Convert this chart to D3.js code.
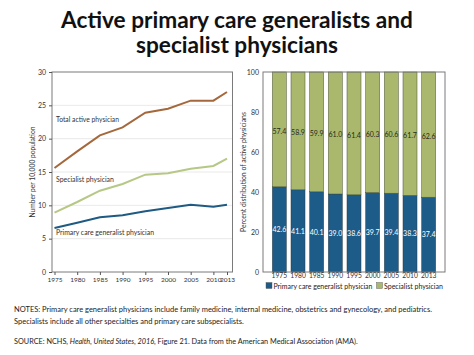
<!DOCTYPE html>
<html><head><meta charset="utf-8">
<script src="https://cdn.jsdelivr.net/npm/d3@7"></script>
<style>
body{margin:0;background:#fff;}
svg{display:block;}
text{font-family:Lato,"Open Sans",sans-serif;}
</style></head>
<body>
<svg id="c" width="474" height="355"></svg>
<script>
const years = [1975,1980,1985,1990,1995,2000,2005,2010,2013];
const totalRate = [15.6,18.1,20.5,21.7,23.9,24.5,25.7,25.7,27.0];
const specialistRate = [8.9,10.5,12.2,13.2,14.6,14.8,15.5,15.9,17.0];
const primaryRate = [6.6,7.4,8.2,8.5,9.1,9.6,10.1,9.8,10.1];
const primaryPct = [42.6,41.1,40.1,39.0,38.6,39.7,39.4,38.3,37.4];
const specialistPct = [57.4,58.9,59.9,61.0,61.4,60.3,60.6,61.7,62.6];
const leftYTicks = [0,5,10,15,20,25,30];
const rightYTicks = [0,20,40,60,80,100];
const titleLines = ["Active primary care generalists and","specialist physicians"];
const lineSeries = [
  {name:"Total active physician", values: totalRate, color:"#a5683c"},
  {name:"Specialist physician", values: specialistRate, color:"#b6c886"},
  {name:"Primary care generalist physician", values: primaryRate, color:"#1e5a82"}
];
const blue = "#1d5b88", green = "#a9b86c";

const svg = d3.select("#c");
// scale a text's font size so its rendered width matches a target width
function fit(sel, w){
  sel.each(function(){
    const t = d3.select(this);
    const len = this.getComputedTextLength();
    if (len > 0) t.attr("font-size", (+t.attr("font-size")) * w / len);
  });
  return sel;
}

// Title (one text, two lines)
const title = svg.append("text").attr("text-anchor","middle").attr("font-weight",700)
  .attr("font-size",20).attr("fill","#111");
const tsp = title.selectAll("tspan").data(titleLines).join("tspan")
  .attr("x",237).attr("y",(d,i)=>i===0?28:52.5).text(d=>d);
{
  const len = tsp.node().getComputedTextLength();
  if (len > 0) title.attr("font-size", 20*352/len);
}

// ---------- Left line chart ----------
const L = {x0:52, x1:232.5, y0:72, y1:272};
const xL = d3.scaleLinear().domain([1975,2013]).range([54.5,227]);
const yL = d3.scaleLinear().domain([0,30]).range([L.y1,L.y0]);
const gL = svg.append("g");
gL.selectAll("line.grid").data(leftYTicks.filter(d=>d>0 && d<30)).join("line")
  .attr("class","grid")
  .attr("x1",L.x0).attr("x2",L.x1).attr("y1",d=>yL(d)).attr("y2",d=>yL(d))
  .attr("stroke","#e3e3e3").attr("stroke-width",0.8);
gL.append("rect").attr("x",L.x0).attr("y",L.y0).attr("width",L.x1-L.x0).attr("height",L.y1-L.y0)
  .attr("fill","none").attr("stroke","#7a7a7a").attr("stroke-width",1);
const axLY = gL.append("g").attr("transform",`translate(${L.x0},0)`)
  .call(d3.axisLeft(yL).tickValues(leftYTicks).tickSize(3).tickPadding(3).tickFormat(d3.format("d")));
const axLX = gL.append("g").attr("transform",`translate(0,${L.y1})`)
  .call(d3.axisBottom(xL).tickValues(years).tickSize(3).tickPadding(2.5).tickFormat(d3.format("d")));
[axLY,axLX].forEach(a=>{a.select(".domain").remove();
  a.selectAll(".tick line").attr("stroke","#555");
  a.selectAll("text").attr("font-size",7).attr("fill","#333").attr("font-family","Lato,sans-serif");});
axLX.selectAll("text").attr("font-size",6.5);
const line = d3.line().x((d,i)=>xL(years[i])).y(d=>yL(d));
gL.selectAll("path.series").data(lineSeries).join("path")
  .attr("class","series")
  .attr("d",d=>line(d.values)).attr("fill","none").attr("stroke",d=>d.color).attr("stroke-width",2);
const annoY = [22.5, 13.5, 5.5];
const annoW = [63, 58, 98];
gL.selectAll("text.anno").data(lineSeries).join("text")
  .attr("class","anno")
  .attr("x",56).attr("y",(d,i)=>yL(annoY[i])).attr("font-size",7.8).attr("fill","#333").text(d=>d.name)
  .each(function(d,i){ fit(d3.select(this), annoW[i]); });
const ylt = svg.append("text").attr("transform",`translate(35,172) rotate(-90)`).attr("text-anchor","middle")
  .attr("font-size",7.2).attr("fill","#333").text("Number per 10,000 population");
fit(ylt,91);

// ---------- Right bar chart ----------
const R = {x0:263, x1:445, y0:72, y1:272};
const xR = d3.scaleBand().domain(years).range([R.x0,R.x1]).paddingInner(0.25).paddingOuter(0.5);
const yR = d3.scaleLinear().domain([0,100]).range([R.y1,R.y0]);
const gR = svg.append("g");
const bw = xR.bandwidth();
gR.selectAll("rect.p").data(years).join("rect").attr("class","p")
  .attr("x",d=>xR(d)).attr("width",bw)
  .attr("y",(d,i)=>yR(primaryPct[i])).attr("height",(d,i)=>yR(0)-yR(primaryPct[i]))
  .attr("fill",blue).attr("stroke","#2d3e4a").attr("stroke-width",0.5);
gR.selectAll("rect.s").data(years).join("rect").attr("class","s")
  .attr("x",d=>xR(d)).attr("width",bw)
  .attr("y",(d,i)=>yR(primaryPct[i]+specialistPct[i])).attr("height",(d,i)=>yR(primaryPct[i])-yR(primaryPct[i]+specialistPct[i]))
  .attr("fill",green).attr("stroke","#4a5230").attr("stroke-width",0.5);
gR.selectAll("text.pl").data(years).join("text").attr("class","pl")
  .attr("x",d=>xR(d)+bw/2).attr("y",(d,i)=>yR(primaryPct[i]/2)+1)
  .attr("text-anchor","middle").attr("font-size",7).attr("fill","#fff").attr("dominant-baseline","middle")
  .text((d,i)=>primaryPct[i].toFixed(1));
gR.selectAll("text.sl").data(years).join("text").attr("class","sl")
  .attr("x",d=>xR(d)+bw/2).attr("y",(d,i)=>yR(primaryPct[i]+specialistPct[i]/2)+2.5)
  .attr("text-anchor","middle").attr("font-size",7).attr("fill","#2a2a1a").attr("dominant-baseline","middle")
  .text((d,i)=>specialistPct[i].toFixed(1));
gR.append("rect").attr("x",R.x0).attr("y",R.y0).attr("width",R.x1-R.x0).attr("height",R.y1-R.y0)
  .attr("fill","none").attr("stroke","#7a7a7a").attr("stroke-width",1);
const axRY = gR.append("g").attr("transform",`translate(${R.x0},0)`)
  .call(d3.axisLeft(yR).tickValues(rightYTicks).tickSize(0).tickPadding(4));
const axRX = gR.append("g").attr("transform",`translate(0,${R.y1})`)
  .call(d3.axisBottom(xR).tickSize(0).tickPadding(1.5));
[axRY,axRX].forEach(a=>{a.select(".domain").remove();
  a.selectAll("text").attr("font-size",7).attr("fill","#333").attr("font-family","Lato,sans-serif");});
axRX.selectAll("text").attr("font-size",6.7);
const yrt = svg.append("text").attr("transform",`translate(246,172) rotate(-90)`).attr("text-anchor","middle")
  .attr("font-size",7.2).attr("fill","#333").text("Percent distribution of active physicians");
fit(yrt,120);

// Legend
const legend = [{name:"Primary care generalist physician", color:blue, w:99},{name:"Specialist physician", color:green, w:59}];
const lgX = [266, 376.5];
const lg = svg.selectAll("g.lg").data(legend).join("g").attr("class","lg").attr("transform",(d,i)=>`translate(${lgX[i]},282.5)`);
lg.append("rect").attr("width",6).attr("height",6).attr("fill",d=>d.color).attr("stroke","#555").attr("stroke-width",0.4);
lg.append("text").attr("x",7.5).attr("y",6).attr("font-size",7.8).attr("fill","#222").text(d=>d.name)
  .each(function(d){ fit(d3.select(this), d.w); });

// Notes
const n1 = svg.append("text").attr("x",14).attr("y",311.5).attr("font-size",7.6).attr("fill","#222")
  .text("NOTES: Primary care generalist physicians include family medicine, internal medicine, obstetrics and gynecology, and pediatrics.");
fit(n1,418);
const n2 = svg.append("text").attr("x",14).attr("y",323.5).attr("font-size",7.6).attr("fill","#222")
  .text("Specialists include all other specialties and primary care subspecialists.");
fit(n2,230);
const src = svg.append("text").attr("x",14).attr("y",344).attr("font-size",7.6).attr("fill","#222");
src.append("tspan").text("SOURCE: NCHS, ");
src.append("tspan").attr("font-style","italic").text("Health, United States, 2016");
src.append("tspan").text(", Figure 21. Data from the American Medical Association (AMA).");
fit(src,344);
</script>
</body></html>
